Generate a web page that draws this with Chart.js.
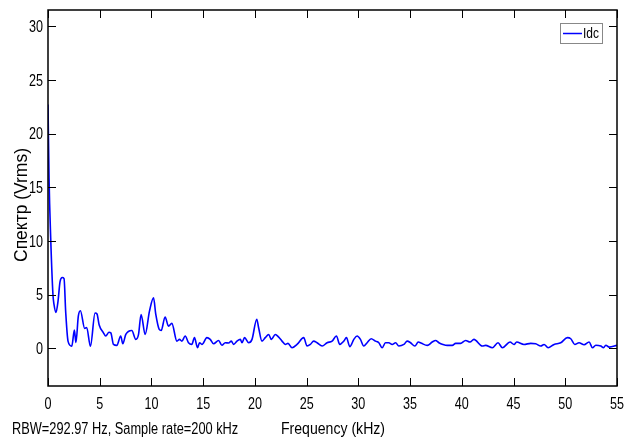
<!DOCTYPE html>
<html>
<head>
<meta charset="utf-8">
<script src="https://cdn.jsdelivr.net/npm/chart.js@4.4.0/dist/chart.umd.min.js"></script>
<style>
  html, body { margin: 0; padding: 0; background: #fff; }
  #wrap { width: 630px; height: 438px; }
</style>
</head>
<body>
<div id="wrap"><canvas id="spectrumChart"></canvas></div>
<script>
// spectrum data (kHz, Vrms)
const freqKHz = [
  0, 0.1, 0.26, 0.48, 0.58, 0.77, 0.97, 1.16, 1.38, 1.55,
  1.71, 1.94, 2.3, 2.55, 2.7, 2.93, 3.13, 3.55, 3.74, 4.1,
  4.55, 4.74, 4.94, 5.36, 5.58, 5.9, 6.07, 6.33, 6.65, 7.03,
  7.23, 7.52, 8.1, 8.49, 8.75, 9.0, 9.39, 9.81, 10.2, 10.42,
  10.75, 10.94, 11.32, 11.65, 11.97, 12.46, 12.71, 12.94, 13.26, 13.58,
  13.9, 14.16, 14.45, 14.65, 14.88, 15.36, 15.68, 16.0, 16.49, 16.81,
  17.13, 17.46, 17.72, 17.94, 18.27, 18.59, 18.75, 19.0, 19.39, 19.72,
  20.18, 20.36, 20.68, 21.0, 21.33, 21.59, 21.97, 22.3, 22.62, 22.94,
  23.2, 23.59, 24.07, 24.72, 25.04, 25.36, 25.68, 26.0, 26.5, 26.98,
  27.46, 27.88, 28.2, 28.59, 28.85, 29.17, 29.56, 29.88, 30.2, 30.52,
  30.85, 31.24, 31.65, 31.98, 32.3, 32.62, 32.94, 33.27, 33.6, 33.91,
  34.4, 34.72, 35.04, 35.46, 35.79, 36.1, 36.66, 37.14, 37.46, 37.78,
  38.17, 38.6, 39.08, 39.4, 39.88, 40.37, 40.79, 41.17, 41.98, 42.3,
  42.95, 43.5, 43.92, 44.66, 45.05, 45.3, 46.01, 46.66, 47.14, 47.63,
  47.95, 48.34, 48.92, 49.56, 50.21, 50.53, 50.92, 51.33, 51.82, 52.3,
  52.63, 52.95, 53.44, 53.7, 53.92, 54.24, 55.0
];
const idcVrms = [
  22.7, 15.9, 10.3, 5.0, 4.1, 3.35, 4.4, 6.2, 6.6, 6.5,
  3.4, 0.65, 0.2, 1.7, 0.55, 3.0, 3.5, 1.85, 1.95, 0.2,
  3.3, 3.2, 2.2, 1.45, 1.15, 1.5, 1.45, 0.37, 0.28, 1.15,
  0.43, 1.3, 1.67, 0.84, 1.3, 3.16, 1.3, 3.47, 4.7, 3.16,
  1.77, 1.67, 2.92, 2.07, 2.33, 0.68, 0.84, 0.68, 1.15, 0.53,
  0.37, 1.0, 0.06, 0.53, 0.37, 1.0, 0.84, 0.43, 0.74, 0.3,
  0.53, 0.5, 0.68, 0.37, 0.68, 0.84, 0.53, 1.0, 0.53, 0.84,
  2.72, 1.92, 0.68, 1.0, 1.3, 0.84, 1.3, 1.05, 0.68, 0.37,
  0.47, 0.06, 0.37, 1.0, 0.22, 0.37, 0.68, 0.53, 0.22, 0.53,
  0.68, 1.15, 0.37, 0.68, 1.0, 0.16, 0.84, 1.15, 0.84, 0.22,
  0.53, 0.9, 0.68, 0.53, 0.06, 0.53, 0.53, 0.37, 0.53, 0.22,
  0.37, 0.68, 0.53, 0.22, 0.59, 0.47, 0.28, 0.59, 0.74, 0.53,
  0.37, 0.28, 0.28, 0.47, 0.47, 0.74, 0.59, 0.84, 0.22, 0.28,
  0.06, 0.53, 0.06, 0.59, 0.37, 0.59, 0.37, 0.47, 0.43, 0.22,
  0.37, 0.06, 0.37, 0.53, 1.0, 0.9, 0.37, 0.53, 0.34, 0.59,
  0.06, 0.3, 0.22, 0.06, 0.3, 0.12, 0.28
];
const xTicks = [0, 5, 10, 15, 20, 25, 30, 35, 40, 45, 50, 55];
const yTicks = [0, 5, 10, 15, 20, 25, 30];
const seriesName = "Idc";
const yTitle = "Спектр (Vrms)";
const xTitle = "Frequency (kHz)";
const noteText = "RBW=292.97 Hz, Sample rate=200 kHz";

const FONT = '"Liberation Sans", Arial, sans-serif';

// no narrow font installed, so squeeze text horizontally
function squeezedText(ctx, text, x, y, sx, align) {
  const w = ctx.measureText(text).width * sx;
  let left = x;
  if (align === "center") left = x - w / 2;
  if (align === "right") left = x - w;
  ctx.save();
  ctx.translate(left, y);
  ctx.scale(sx, 1);
  ctx.textAlign = "left";
  ctx.fillText(text, 0, 0);
  ctx.restore();
}

// matlab-like box with inward ticks, tick labels, legend and texts
const framePlugin = {
  id: "frame",
  afterDraw(chart) {
    const ctx = chart.ctx;
    const a = chart.chartArea;
    const xs = chart.scales.x, ys = chart.scales.y;
    const tl = 8;
    ctx.save();
    ctx.strokeStyle = "#000";
    ctx.lineWidth = 1.5;
    ctx.strokeRect(a.left, a.top, a.right - a.left, a.bottom - a.top);
    ctx.lineWidth = 1;
    ctx.beginPath();
    xTicks.forEach(v => {
      const px = Math.round(xs.getPixelForValue(v)) + 0.5;
      ctx.moveTo(px, a.bottom); ctx.lineTo(px, a.bottom - tl);
      ctx.moveTo(px, a.top); ctx.lineTo(px, a.top + tl);
    });
    yTicks.forEach(v => {
      const py = Math.round(ys.getPixelForValue(v)) + 0.5;
      ctx.moveTo(a.left, py); ctx.lineTo(a.left + tl, py);
      ctx.moveTo(a.right, py); ctx.lineTo(a.right - tl, py);
    });
    ctx.stroke();

    // tick labels
    ctx.fillStyle = "#000";
    ctx.font = "17px " + FONT;
    ctx.textBaseline = "middle";
    xTicks.forEach(v => {
      squeezedText(ctx, String(v), xs.getPixelForValue(v), a.bottom + 18, 0.74, "center");
    });
    yTicks.forEach(v => {
      squeezedText(ctx, String(v), a.left - 5, ys.getPixelForValue(v) + 1, 0.74, "right");
    });

    // legend
    const lx = a.right - 57, ly = a.top + 13, lw = 42, lh = 20;
    ctx.fillStyle = "#fff";
    ctx.fillRect(lx, ly, lw, lh);
    ctx.strokeStyle = "#888";
    ctx.lineWidth = 1;
    ctx.strokeRect(lx + 0.5, ly + 0.5, lw, lh);
    ctx.strokeStyle = "#0000ff";
    ctx.lineWidth = 1.5;
    ctx.beginPath();
    ctx.moveTo(lx + 3, ly + 10.5); ctx.lineTo(lx + 22, ly + 10.5);
    ctx.stroke();
    ctx.fillStyle = "#000";
    ctx.font = "15px " + FONT;
    squeezedText(ctx, seriesName, lx + 23, ly + 11, 0.8, "left");

    // axis texts
    ctx.font = "16px " + FONT;
    ctx.textBaseline = "alphabetic";
    squeezedText(ctx, noteText, 12, 434, 0.8, "left");
    squeezedText(ctx, xTitle, 281, 434, 0.88, "left");
    ctx.font = "18px " + FONT;
    ctx.translate(27, 205);
    ctx.rotate(-Math.PI / 2);
    squeezedText(ctx, yTitle, 0, 0, 0.97, "center");
    ctx.restore();
  }
};

const ctx = document.getElementById("spectrumChart").getContext("2d");
const spectrumChart = new Chart(ctx, {
  type: "line",
  data: {
    datasets: [{
      label: seriesName,
      data: freqKHz.map((f, i) => ({ x: f, y: idcVrms[i] })),
      borderColor: "#0000ff",
      borderWidth: 1.6,
      pointRadius: 0,
      fill: false,
      cubicInterpolationMode: "monotone"
    }]
  },
  options: {
    responsive: true,
    maintainAspectRatio: false,
    animation: false,
    layout: { padding: { left: 0, top: 10, right: 13, bottom: 0 } },
    plugins: {
      legend: { display: false },
      tooltip: { enabled: false }
    },
    scales: {
      x: {
        type: "linear",
        min: 0,
        max: 55,
        afterBuildTicks: axis => { axis.ticks = xTicks.map(v => ({ value: v })); },
        afterFit: axis => { axis.height = 52; },
        grid: { display: false, drawTicks: false },
        border: { display: false },
        ticks: { display: false }
      },
      y: {
        min: -3.5,
        max: 31.5,
        afterBuildTicks: axis => { axis.ticks = yTicks.map(v => ({ value: v })); },
        afterFit: axis => { axis.width = 48; },
        grid: { display: false, drawTicks: false },
        border: { display: false },
        ticks: { display: false }
      }
    }
  },
  plugins: [framePlugin]
});
</script>
</body>
</html>
